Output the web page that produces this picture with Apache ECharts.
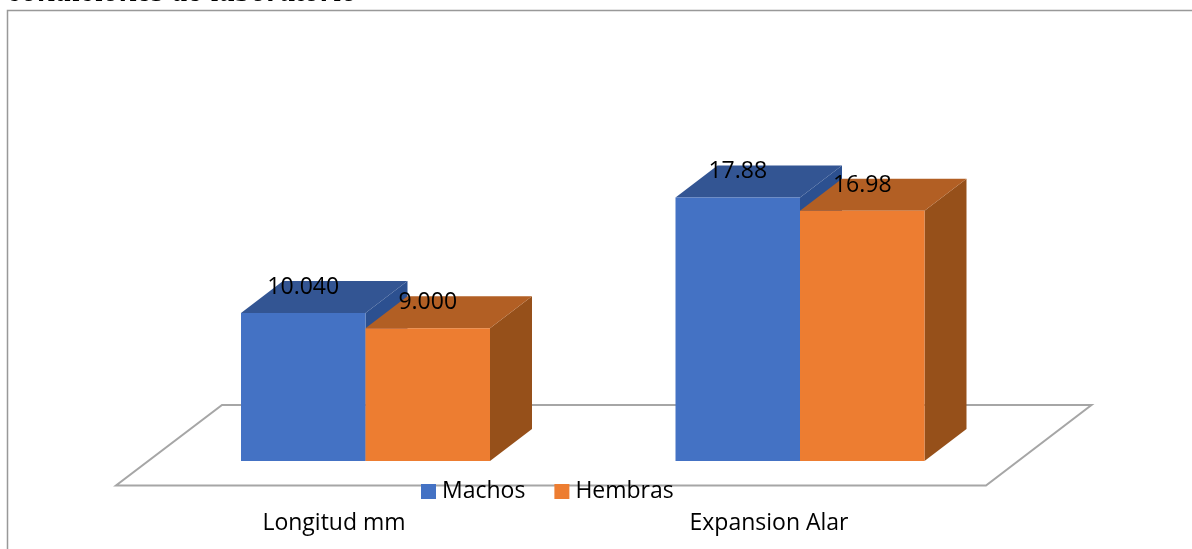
<!DOCTYPE html>
<html>
<head>
<meta charset="utf-8">
<style>
  html, body { margin: 0; padding: 0; background: #fff; }
  #chart { width: 1192px; height: 549px; }
</style>
<script src="https://cdn.jsdelivr.net/npm/echarts@6/dist/echarts.min.js"></script>
</head>
<body>
<div id="chart"></div>
<script>
const categories = ["Longitud mm", "Expansion Alar"];
const machos = [10.04, 17.88];
const hembras = [9.0, 16.98];
const machosLabels = ["10.040", "17.88"];
const hembrasLabels = ["9.000", "16.98"];

const FONT = "Open Sans";
const DEPTH_X = 42;
const DEPTH_Y = -32;
const BAR_WIDTH = 124.5;

const chart = echarts.init(document.getElementById("chart"));

// 3D box: front face, top and side, offset from the category centre
const box3d = (colors, labels, side) => (params, api) => {
  const [cx, yTop] = api.coord([api.value(0), api.value(1)]);
  const [, yBase] = api.coord([api.value(0), 0]);
  const x0 = side < 0 ? cx - BAR_WIDTH : cx;
  const x1 = x0 + BAR_WIDTH;
  const poly = (points, fill) => ({
    type: "polygon",
    shape: { points },
    style: { fill },
  });
  return {
    type: "group",
    children: [
      poly(
        [[x1, yTop], [x1 + DEPTH_X, yTop + DEPTH_Y], [x1 + DEPTH_X, yBase + DEPTH_Y], [x1, yBase]],
        colors.side
      ),
      poly(
        [[x0, yTop], [x0 + DEPTH_X, yTop + DEPTH_Y], [x1 + DEPTH_X, yTop + DEPTH_Y], [x1, yTop]],
        colors.top
      ),
      poly([[x0, yTop], [x1, yTop], [x1, yBase], [x0, yBase]], colors.front),
      {
        type: "text",
        z2: 100,
        style: {
          text: labels[params.dataIndex],
          x: (x0 + x1) / 2,
          y: yTop - 25.5,
          align: "center",
          verticalAlign: "middle",
          fill: "#000",
          font: "23px '" + FONT + "'",
        },
      },
    ],
  };
};

chart.setOption({
  animation: false,
  backgroundColor: "#fff",
  title: {
    text: "condiciones de laboratorio",
    left: 8,
    top: -23,
    padding: 0,
    textStyle: {
      fontFamily: "Liberation Serif",
      fontStyle: "italic",
      fontWeight: "bold",
      fontSize: 32,
      color: "#000",
    },
  },
  legend: {
    left: 421,
    top: 480,
    padding: 0,
    icon: "rect",
    itemWidth: 15,
    itemHeight: 15,
    itemGap: 29,
    data: ["Machos", "Hembras"],
    textStyle: { fontFamily: FONT, fontSize: 23, color: "#000", padding: [0, 0, 0, 1] },
  },
  grid: [
    { left: 148.25, width: 869, top: 166.2, height: 294.8 },
    { left: 116.5, width: 870, top: 166.2, height: 294.8 },
  ],
  xAxis: [
    {
      type: "category",
      data: categories,
      gridIndex: 0,
      axisLine: { show: false },
      axisTick: { show: false },
      axisLabel: { show: false },
    },
    {
      type: "category",
      data: categories,
      gridIndex: 1,
      axisLine: { show: false },
      axisTick: { show: false },
      axisLabel: { margin: 51, fontFamily: FONT, fontSize: 23, color: "#000" },
    },
  ],
  yAxis: [
    { type: "value", min: 0, max: 20, gridIndex: 0, show: false },
    { type: "value", min: 0, max: 20, gridIndex: 1, show: false },
  ],
  graphic: [
    {
      type: "rect",
      z: -2,
      shape: { x: 7.5, y: 10.5, width: 1190, height: 545 },
      style: { fill: "#fff", stroke: "#999", lineWidth: 1.5 },
    },
    {
      type: "polygon",
      z: -1,
      shape: { points: [[116, 485.5], [986, 485.5], [1091.5, 405], [222, 405]] },
      style: { fill: "#fff", stroke: "#a6a6a6", lineWidth: 2 },
    },
  ],
  series: [
    {
      name: "Machos",
      type: "custom",
      itemStyle: { color: "#4472C4" },
      encode: { x: 0, y: 1 },
      data: categories.map((c, i) => [i, machos[i]]),
      renderItem: box3d({ front: "#4472C4", top: "#335593", side: "#2C5090" }, machosLabels, -1),
    },
    {
      name: "Hembras",
      type: "custom",
      itemStyle: { color: "#ED7D31" },
      encode: { x: 0, y: 1 },
      data: categories.map((c, i) => [i, hembras[i]]),
      renderItem: box3d({ front: "#ED7D31", top: "#B25F24", side: "#96501A" }, hembrasLabels, 1),
    },
  ],
});

window.addEventListener("resize", () => chart.resize());
</script>
</body>
</html>
